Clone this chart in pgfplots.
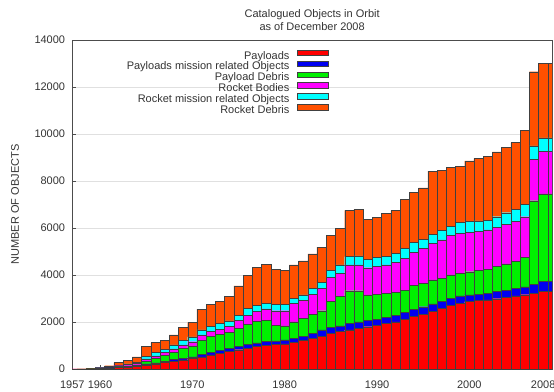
\documentclass[border=0pt]{standalone}
\usepackage{fontspec}
\setmainfont{Liberation Sans}
\usepackage{pgfplots}
\usepackage{pgfplotstable}
\pgfplotsset{compat=1.18}
\definecolor{cpay}{HTML}{FF0000}
\definecolor{cpmro}{HTML}{0000F0}
\definecolor{cpd}{HTML}{00F000}
\definecolor{crb}{HTML}{FF00FF}
\definecolor{crmro}{HTML}{00FFFF}
\definecolor{crd}{HTML}{FF5000}
\pgfplotstableread{
year pay pmro pd rb rmro rd
1957 1 0 0 1 0 0
1958 4 0 1 3 0 2
1959 8 0 2 8 0 7
1960 20 5 5 15 5 20
1961 35 10 15 25 15 40
1962 60 15 20 45 20 110
1963 85 20 25 60 25 168
1964 120 25 35 70 40 221
1965 170 45 115 100 110 410
1966 215 50 185 110 140 420
1967 270 60 250 120 150 384
1968 330 70 320 140 170 417
1969 385 75 410 160 180 549
1970 440 80 460 180 210 616
1971 520 100 610 220 220 883
1972 600 120 660 220 220 940
1973 670 130 660 230 240 963
1974 740 140 690 250 230 1056
1975 820 150 770 330 220 1242
1976 890 160 850 390 280 1425
1977 950 160 920 420 270 1606
1978 1010 160 890 500 240 1668
1979 1040 160 660 620 260 1508
1980 1070 170 590 650 280 1440
1981 1120 180 710 780 210 1427
1982 1230 170 760 750 240 1450
1983 1310 210 820 850 240 1470
1984 1400 260 820 950 260 1500
1985 1520 250 1100 1030 310 1480
1986 1590 240 1250 990 360 1545
1987 1660 280 1390 1100 350 1965
1988 1730 280 1320 1100 380 1980
1989 1800 260 1090 1160 360 1710
1990 1860 250 1080 1170 390 1690
1991 1940 260 1020 1210 350 1830
1992 2010 280 960 1280 390 1825
1993 2110 300 950 1350 430 2070
1994 2230 310 1010 1400 430 2145
1995 2340 310 1000 1490 390 2180
1996 2440 330 1020 1560 380 2690
1997 2580 290 990 1630 400 2550
1998 2700 310 990 1680 380 2520
1999 2800 310 960 1700 460 2390
2000 2870 280 990 1660 470 2590
2001 2910 280 1020 1640 450 2660
2002 2940 280 1020 1680 420 2700
2003 2990 300 1070 1670 450 2760
2004 3050 310 1110 1700 480 2770
2005 3110 320 1140 1700 530 2830
2006 3160 340 1250 1730 540 3150
2007 3220 380 3560 1760 570 3160
2008 3290 430 3730 1800 580 3190
2009 3290 430 3730 1800 580 3190
}\data
\begin{document}
\begin{tikzpicture}
\useasboundingbox (-72.3bp,-23bp) rectangle (481.7bp,369bp);
\begin{axis}[
  at={(0,0)}, anchor=south west,
  scale only axis, width=479.7bp, height=329bp,
  xmin=1957, xmax=2008.95, ymin=0, ymax=14000,
  ybar stacked, bar width=1,
  xtick={1957,1960,1970,1980,1990,2000,2008},
  ytick={0,2000,...,14000},
  scaled y ticks=false,
  /pgf/number format/.cd, 1000 sep={}, assume math mode=true, /pgfplots/.cd,
  tick label style={font=\fontsize{11bp}{13bp}\selectfont, text=black!80},
  xticklabel style={anchor=north, inner sep=0pt, yshift=-11.5bp},
  yticklabel style={anchor=east, inner sep=0pt, xshift=-7bp},
  tick align=inside, major tick length=4bp,
  xtick pos=left, ytick pos=left,
  tick style={black!70, line width=0.5bp},
  axis line style={black!70, line width=0.6bp},
  ymajorgrids, grid style={black!12, line width=0.5bp},
  title={Catalogued Objects in Orbit\\as of December 2008},
  title style={align=center, font=\fontsize{11bp}{12.5bp}\selectfont, text=black!80, at={(0.5,1)}, anchor=south, yshift=3.5bp, inner sep=0pt},
  ylabel={NUMBER OF OBJECTS},
  ylabel style={at={(axis description cs:-0.1195,0.5)}, anchor=center, font=\fontsize{11bp}{13bp}\selectfont, text=black!80},
  legend plot pos=right,
  legend cell align=right,
  legend image code/.code={\draw[#1] (0bp,1.2bp) rectangle (31bp,6.6bp);},
  legend style={at={(rel axis cs:0.5351,0.971)}, anchor=north east, draw=none, fill=none,
    inner sep=0pt, row sep=-1.4bp, column sep=8bp,
    font=\fontsize{11bp}{13bp}\selectfont, text=black!80,
    nodes={inner sep=0pt, text height=8bp, text depth=3bp}},
  every axis plot/.append style={draw=black!75, line width=0.4bp},
]
\addplot[fill=cpay] table[x=year,y=pay]{\data};
\addlegendentry{Payloads}
\addplot[fill=cpmro] table[x=year,y=pmro]{\data};
\addlegendentry{Payloads mission related Objects}
\addplot[fill=cpd] table[x=year,y=pd]{\data};
\addlegendentry{Payload Debris}
\addplot[fill=crb] table[x=year,y=rb]{\data};
\addlegendentry{Rocket Bodies}
\addplot[fill=crmro] table[x=year,y=rmro]{\data};
\addlegendentry{Rocket mission related Objects}
\addplot[fill=crd] table[x=year,y=rd]{\data};
\addlegendentry{Rocket Debris}
\end{axis}
\end{tikzpicture}
\end{document}
